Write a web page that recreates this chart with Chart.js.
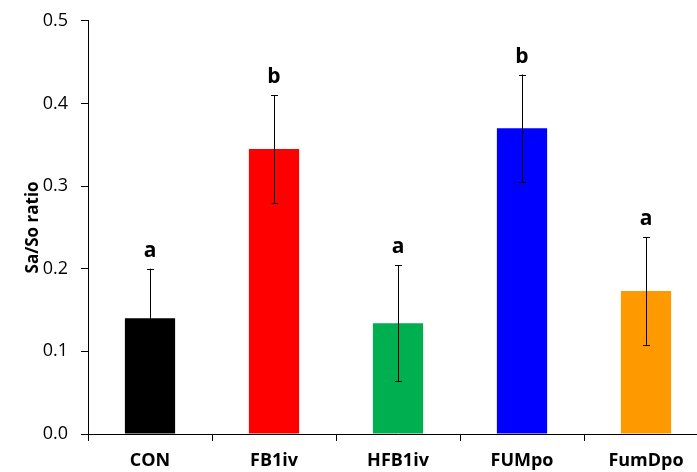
<!DOCTYPE html>
<html>
<head>
<meta charset="utf-8">
<script src="https://cdn.jsdelivr.net/npm/chart.js@4/dist/chart.umd.min.js"></script>
<style>
  html, body { margin: 0; padding: 0; background: #fff; overflow: hidden; }
  #wrap { width: 720px; height: 475px; position: relative; top: -3px; }
</style>
</head>
<body>
<div id="wrap"><canvas id="c" width="720" height="475"></canvas></div>
<script>
const categories = ["CON", "FB1iv", "HFB1iv", "FUMpo", "FumDpo"];
const means = [0.140, 0.345, 0.134, 0.370, 0.173];
const errors = [0.060, 0.065, 0.070, 0.065, 0.065];
const letters = ["a", "b", "a", "b", "a"];
const barColors = ["#000000", "#FF0000", "#00B050", "#0000FF", "#FF9900"];
const yTicks = [0.0, 0.1, 0.2, 0.3, 0.4, 0.5];

const FONT = "'Open Sans', sans-serif";

const errorBarPlugin = {
  id: 'errorBars',
  afterDatasetsDraw(chart) {
    const ctx = chart.ctx;
    const meta = chart.getDatasetMeta(0);
    const y = chart.scales.y;
    ctx.save();
    ctx.strokeStyle = '#000';
    ctx.lineWidth = 1;
    meta.data.forEach((bar, i) => {
      const x = Math.round(bar.x) + 0.5;
      const yTop = y.getPixelForValue(means[i] + errors[i]);
      const yBot = y.getPixelForValue(means[i] - errors[i]);
      const cap = 3.5;
      ctx.beginPath();
      ctx.moveTo(x, yTop); ctx.lineTo(x, yBot);
      ctx.moveTo(x - cap, Math.round(yTop) + 0.5); ctx.lineTo(x + cap, Math.round(yTop) + 0.5);
      ctx.moveTo(x - cap, Math.round(yBot) + 0.5); ctx.lineTo(x + cap, Math.round(yBot) + 0.5);
      ctx.stroke();
      ctx.fillStyle = '#000';
      ctx.font = "bold 21px " + FONT;
      ctx.textAlign = 'center';
      ctx.textBaseline = 'middle';
      ctx.fillText(letters[i], bar.x, yTop - 18);
    });
    ctx.restore();
  }
};

new Chart(document.getElementById('c'), {
  type: 'bar',
  data: {
    labels: categories,
    datasets: [{
      data: means,
      backgroundColor: barColors,
      borderWidth: 0,
      categoryPercentage: 1.0,
      barPercentage: 0.405
    }]
  },
  options: {
    responsive: false,
    animation: false,
    layout: { padding: { top: 8, right: 12, left: 0, bottom: 0 } },
    plugins: { legend: { display: false }, tooltip: { enabled: false } },
    scales: {
      x: {
        offset: true,
        afterFit(s) { s.height = 38; },
        grid: { display: true, drawOnChartArea: false, drawTicks: true, tickLength: 7, color: '#000', offset: true },
        border: { display: true, color: '#000', width: 1 },
        ticks: { color: '#000', padding: 9, font: { family: FONT, size: 18, weight: 'bold' } }
      },
      y: {
        min: 0, max: 0.5,
        afterFit(s) { s.width = 88; },
        afterBuildTicks(s) { s.ticks = yTicks.map(v => ({ value: v })); },
        grid: { display: true, drawOnChartArea: false, drawTicks: true, tickLength: 7, color: '#000' },
        border: { display: true, color: '#000', width: 1 },
        ticks: {
          color: '#000', padding: 13,
          font: { family: FONT, size: 18 },
          callback: v => Number(v).toFixed(1)
        },
        title: {
          display: true, text: 'Sa/So ratio', color: '#000',
          font: { family: FONT, size: 17, weight: 'bold' },
          padding: { top: 23, bottom: 0 }
        }
      }
    }
  },
  plugins: [errorBarPlugin]
});
</script>
</body>
</html>
